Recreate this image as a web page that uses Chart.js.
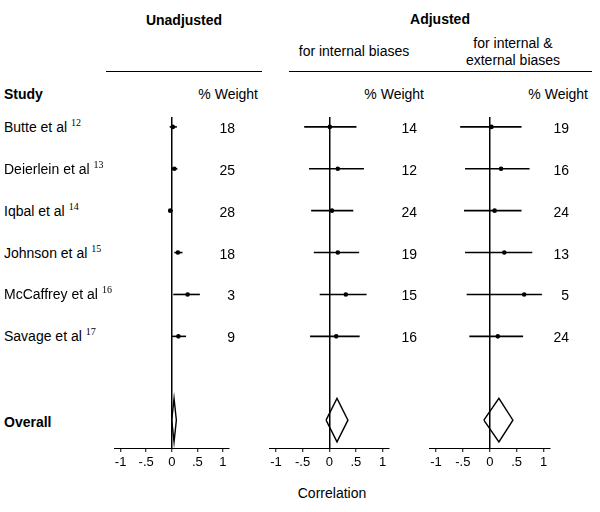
<!DOCTYPE html>
<html lang="en">
<head>
<meta charset="UTF-8">
<title>Forest plot: correlation, unadjusted and adjusted</title>
<script src="https://cdn.jsdelivr.net/npm/chart.js"></script>
<style>
    body { margin: 0; background: #fff; color: #000; font-family: "Liberation Sans", Arial, sans-serif; }
    #wrap { position: relative; width: 600px; height: 512px; overflow: hidden; background: #fff; }
    .t { position: absolute; white-space: nowrap; font-size: 14px; line-height: 14px; }
    .b { font-weight: bold; }
    .c { transform: translate(-50%, -50%); text-align: center; }
    .l { transform: translate(0, -50%); }
    .r { transform: translate(-100%, -50%); }
    .rule { position: absolute; height: 0; border-top: 1px solid #000; }
    .ref { font-family: "Liberation Serif", "Times New Roman", serif; font-size: 10px; position: relative; top: -6px; margin-left: 4px; }
    canvas { position: absolute; }
</style>
</head>
<body>
<div id="wrap">
    <div class="t b c" style="left:184px; top:20px;">Unadjusted</div>
    <div class="t b c" style="left:440px; top:19px;">Adjusted</div>
    <div class="t c" style="left:354px; top:51px;">for internal biases</div>
    <div class="t c" style="left:513px; top:52px; line-height:17px;">for internal &amp;<br>external biases</div>
    <div class="rule" style="left:106px; top:71px; width:156px;"></div>
    <div class="rule" style="left:289px; top:71px; width:303px;"></div>
    <div class="t b l" style="left:4px; top:94px;">Study</div>
    <div class="t r" style="left:258px; top:94px;">% Weight</div>
    <div class="t r" style="left:424px; top:94px;">% Weight</div>
    <div class="t r" style="left:588px; top:94px;">% Weight</div>
    <div class="t c" style="left:332px; top:493px;">Correlation</div>
</div>

<script>
    // studies and reference numbers
    const STUDIES = ['Butte et al', 'Deierlein et al', 'Iqbal et al', 'Johnson et al', 'McCaffrey et al', 'Savage et al'];
    const REFS = ['12', '13', '14', '15', '16', '17'];

    // unadjusted
    const UNADJ_EST = [0.02, 0.05, -0.03, 0.12, 0.31, 0.13];
    const UNADJ_LO = [-0.04, -0.01, -0.07, 0.05, 0.03, 0.00];
    const UNADJ_HI = [0.10, 0.11, 0.02, 0.21, 0.55, 0.28];
    const UNADJ_W = [18, 25, 28, 18, 3, 9];
    const UNADJ_OVERALL = [0.00, 0.045, 0.09];

    // adjusted for internal biases
    const INT_EST = [0.01, 0.16, 0.05, 0.16, 0.31, 0.13];
    const INT_LO = [-0.47, -0.38, -0.34, -0.29, -0.18, -0.36];
    const INT_HI = [0.51, 0.65, 0.45, 0.56, 0.70, 0.57];
    const INT_W = [14, 12, 24, 19, 15, 16];
    const INT_OVERALL = [-0.06, 0.145, 0.35];

    // adjusted for internal & external biases
    const EXT_EST = [0.03, 0.21, 0.09, 0.27, 0.64, 0.15];
    const EXT_LO = [-0.55, -0.46, -0.48, -0.46, -0.43, -0.38];
    const EXT_HI = [0.59, 0.74, 0.59, 0.79, 0.97, 0.62];
    const EXT_W = [19, 16, 24, 13, 5, 24];
    const EXT_OVERALL = [-0.11, 0.17, 0.43];

    const TICK_VALUES = [-1, -0.5, 0, 0.5, 1];
    const TICK_LABELS = ['-1', '-.5', '0', '.5', '1'];

    const OVERALL_ROW = 7;
    const DIAMOND_HALF = 0.52;   // in rows
    const PLOT_TOP = 113, PLOT_BOTTOM = 448, PAD = 12, AXIS_H = 30;
    const FONT = '"Liberation Sans", Arial, sans-serif';

    const panels = [
        { left: 114, right: 229, est: UNADJ_EST, lo: UNADJ_LO, hi: UNADJ_HI, w: UNADJ_W, overall: UNADJ_OVERALL, wRight: 235 },
        { left: 269, right: 389, est: INT_EST, lo: INT_LO, hi: INT_HI, w: INT_W, overall: INT_OVERALL, wRight: 417 },
        { left: 429, right: 550, est: EXT_EST, lo: EXT_LO, hi: EXT_HI, w: EXT_W, overall: EXT_OVERALL, wRight: 569 }
    ];

    const wrap = document.getElementById('wrap');

    function addText(html, x, y, cls) {
        const d = document.createElement('div');
        d.className = 't ' + cls;
        d.style.left = x + 'px';
        d.style.top = y + 'px';
        d.innerHTML = html;
        wrap.appendChild(d);
    }

    function buildPanel(p) {
        const canvas = document.createElement('canvas');
        canvas.width = p.right - p.left + 2 * PAD;
        canvas.height = PLOT_BOTTOM - PLOT_TOP + AXIS_H;
        canvas.style.left = (p.left - PAD) + 'px';
        canvas.style.top = PLOT_TOP + 'px';
        wrap.appendChild(canvas);

        const datasets = [];
        // confidence intervals
        p.est.forEach((v, i) => {
            datasets.push({
                data: [{ x: p.lo[i], y: i }, { x: p.hi[i], y: i }],
                showLine: true, borderColor: '#000', borderWidth: 1.6, pointRadius: 0
            });
        });
        // point estimates
        datasets.push({
            data: p.est.map((v, i) => ({ x: v, y: i })),
            showLine: false, pointRadius: 2.3, pointBackgroundColor: '#000', pointBorderWidth: 0
        });
        // pooled estimate diamond
        const o = p.overall;
        datasets.push({
            data: [
                { x: o[0], y: OVERALL_ROW },
                { x: o[1], y: OVERALL_ROW - DIAMOND_HALF },
                { x: o[2], y: OVERALL_ROW },
                { x: o[1], y: OVERALL_ROW + DIAMOND_HALF },
                { x: o[0], y: OVERALL_ROW }
            ],
            showLine: true, fill: false, borderColor: '#000', borderWidth: 1.4, pointRadius: 0, tension: 0
        });

        return new Chart(canvas, {
            type: 'scatter',
            data: { datasets: datasets },
            options: {
                responsive: false,
                animation: false,
                events: [],
                layout: { padding: { left: PAD, right: PAD, top: 0, bottom: 0 } },
                plugins: { legend: { display: false }, tooltip: { enabled: false } },
                scales: {
                    x: {
                        type: 'linear',
                        min: -1.13,
                        max: 1.12,
                        afterBuildTicks: s => { s.ticks = TICK_VALUES.map(v => ({ value: v })); },
                        afterFit: s => { s.height = AXIS_H; },
                        ticks: {
                            autoSkip: false,
                            maxRotation: 0,
                            padding: 3,
                            color: '#000',
                            font: { family: FONT, size: 13 },
                            callback: (v, i) => TICK_LABELS[i]
                        },
                        grid: {
                            color: c => (c.tick && c.tick.value === 0) ? '#000' : 'rgba(0,0,0,0)',
                            lineWidth: 1.5,
                            drawTicks: true,
                            tickLength: 4,
                            tickColor: '#000',
                            tickWidth: 1
                        },
                        border: { display: true, color: '#000', width: 1 }
                    },
                    y: { type: 'linear', display: false, reverse: true, min: -0.236, max: 7.665 }
                }
            }
        });
    }

    const charts = panels.map(buildPanel);

    // row labels and weights, placed from the first chart's y scale
    const ys = charts[0].scales.y;
    STUDIES.forEach((name, i) => {
        const y = PLOT_TOP + ys.getPixelForValue(i) + 1;
        addText(name + '<span class="ref">' + REFS[i] + '</span>', 4, y, 'l');
        panels.forEach(p => addText(String(p.w[i]), p.wRight, y, 'r'));
    });
    addText('Overall', 4, PLOT_TOP + ys.getPixelForValue(OVERALL_ROW) + 2, 'b l');
</script>
</body>
</html>
